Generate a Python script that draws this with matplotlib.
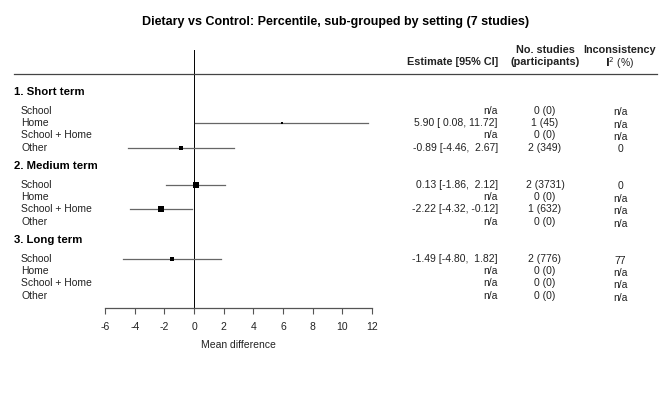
import numpy as np
import matplotlib
matplotlib.use("Agg")
import matplotlib.pyplot as plt
import matplotlib.transforms as mtransforms

plt.rcParams['font.family'] = ['Liberation Sans', 'DejaVu Sans']

nan = np.nan
TITLE = "Dietary vs Control: Percentile, sub-grouped by setting (7 studies)"
GROUPS = ["1. Short term", "2. Medium term", "3. Long term"]
SETTINGS = ["School", "Home", "School + Home", "Other"]

# mean difference and 95% CI per group x setting
EST = [[nan, 5.90, nan, -0.89],
       [0.13, nan, -2.22, nan],
       [-1.49, nan, nan, nan]]
LO = [[nan, 0.08, nan, -4.46],
      [-1.86, nan, -4.32, nan],
      [-4.80, nan, nan, nan]]
HI = [[nan, 11.72, nan, 2.67],
      [2.12, nan, -0.12, nan],
      [1.82, nan, nan, nan]]
N_STUDIES = [[0, 1, 0, 2],
             [2, 0, 1, 0],
             [2, 0, 0, 0]]
PARTICIPANTS = [[0, 45, 0, 349],
                [3731, 0, 632, 0],
                [776, 0, 0, 0]]
I2 = [["n/a", "n/a", "n/a", "0"],
      ["0", "n/a", "n/a", "n/a"],
      ["77", "n/a", "n/a", "n/a"]]
XTICKS = [-6, -4, -2, 0, 2, 4, 6, 8, 10, 12]

W, H = 672, 399
fig = plt.figure(figsize=(W / 100, H / 100), dpi=100)
ax = fig.add_axes([105 / W, (H - 308) / H, 267 / W, 258 / H])
ax.set_xlim(-6, 12)
ax.set_ylim(17.49, -3.40)

for s in ["top", "right", "left"]:
    ax.spines[s].set_visible(False)
ax.spines["bottom"].set_color("#555555")
ax.spines["bottom"].set_linewidth(0.9)
ax.set_yticks([])
ax.set_xticks(XTICKS)
ax.set_xticklabels([str(t) for t in XTICKS])
ax.tick_params(axis="x", length=4, width=0.8, color="#555555", pad=6,
               labelsize=7.5, labelcolor="#222222")
ax.set_xlabel("Mean difference", fontsize=7.5, color="#222222", labelpad=6)
ax.axvline(0, color="black", lw=0.7)

tr = mtransforms.blended_transform_factory(fig.transFigure, ax.transData)
fx = lambda px: px / W
txt = dict(fontsize=7.5, color="#222222", transform=tr, va="center")

fig.text(0.5, 1 - 22 / H, TITLE, ha="center", va="center",
         fontsize=9, fontweight="bold")
ax.plot([fx(14), fx(657)], [-1.46, -1.46], transform=tr, color="#444444",
        lw=0.9, clip_on=False)
bold = dict(txt, fontweight="bold", fontsize=7.8)
ax.text(fx(498), -2.40, "Estimate [95% CI]", ha="right", **bold)
ax.text(fx(545), -3.42, "No. studies", ha="center", **bold)
ax.text(fx(545), -2.40, "(participants)", ha="center", **bold)
ax.text(fx(620), -3.42, "Inconsistency", ha="center", **bold)
ax.text(fx(620), -2.30, r"$\mathbf{I}^{2}$ (%)", ha="center", **txt)

y = 0.0
for g, gname in enumerate(GROUPS):
    ax.text(fx(14), y, gname, ha="left", fontsize=8.2, fontweight="bold",
            color="black", transform=tr, va="center")
    y += 1.5
    for k, sname in enumerate(SETTINGS):
        ax.text(fx(21), y, sname, ha="left", **txt)
        e, lo, hi = EST[g][k], LO[g][k], HI[g][k]
        if np.isnan(e):
            est_txt = "n/a"
        else:
            est_txt = f"{e:.2f} [{lo:5.2f}, {hi:5.2f}]"
            ax.plot([lo, hi], [y, y], color="#666666", lw=0.9, clip_on=False)
            ms = (26 / (hi - lo)) * 0.72
            ax.plot(e, y, marker="s", color="black", ms=ms, mew=0)
        ax.text(fx(498), y, est_txt, ha="right", **txt)
        ax.text(fx(545), y, f"{N_STUDIES[g][k]} ({PARTICIPANTS[g][k]})",
                ha="center", **txt)
        ax.text(fx(620), y + 0.15, I2[g][k], ha="center", **txt)
        y += 1
    y += 0.5

fig.savefig("out.png", dpi=100)
